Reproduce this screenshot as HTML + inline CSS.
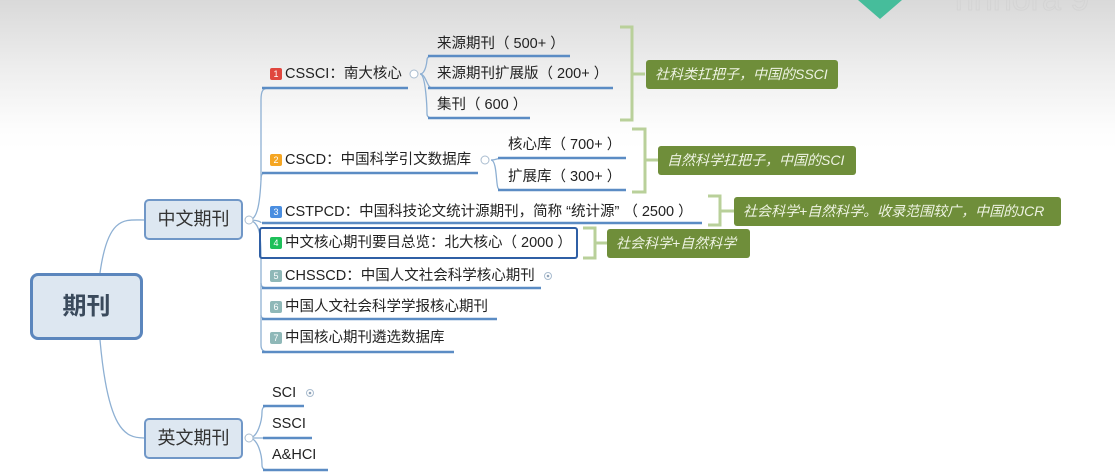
<!DOCTYPE html>
<html><head><meta charset="utf-8"><style>
body{margin:0;width:1115px;height:474px;overflow:hidden;position:relative;font-family:"Liberation Sans","Noto Sans CJK SC",sans-serif;background:linear-gradient(#d9d9d9 0px,#eeeeee 70px,#fdfdfd 130px,#fff 150px);}
.t{position:absolute;font-size:14.5px;color:#222;white-space:nowrap;line-height:16px}
.b{display:inline-block;width:12px;height:12px;border-radius:2px;color:#fff;font-size:9px;line-height:12px;text-align:center;vertical-align:1px;margin-right:3px}
.n{position:absolute;background:#6f8e3a;border-radius:3px;color:#eef3e2;font-style:italic;font-size:14px;line-height:29px;padding:0 9px;white-space:nowrap;box-sizing:border-box}
.box{position:absolute;background:#dde7f1;border:2px solid #7097c7;border-radius:5px;box-sizing:border-box;text-align:center;color:#333;font-size:18px}
svg{position:absolute;left:0;top:0}
</style></head><body>
<svg width="1115" height="474">
<polygon points="858,0 902,0 880,19" fill="#46bd9b"/>
<text x="955" y="10" font-size="34" fill="none" stroke="#d4d4d4" font-family="Liberation Sans">nnnora 9</text>
<g fill="none" stroke="#8eb0d3" stroke-width="1.3">
<path d="M100,273 C108,215 125,220 144,220"/>
<path d="M100,340 C108,430 125,438 144,438"/>
<path d="M249,220 C258,220 260,200 261,180 L261,100 C261,90 263,88 270,88"/>
<path d="M261,180 C261,172 263,173 270,173"/>
<path d="M249,220 C258,220 261,222 261,223"/>
<path d="M249,220 C260,222 261,235 261,260 L261,345 C261,350 263,352 270,352"/>
<path d="M261,283 C261,287 263,288 270,288"/>
<path d="M261,315 C261,318 263,319 270,319"/>
<path d="M249,438 C258,438 262,420 262,412 C262,407 264,406 270,406"/>
<path d="M249,438 C258,438 262,438 268,438"/>
<path d="M249,438 C258,438 262,455 262,465 C262,469 264,470 270,470"/>
<path d="M420,74 C426,74 427,60 427,60 C427,57 429,56 434,56"/>
<path d="M420,74 C426,74 427,88 432,88"/>
<path d="M420,74 C426,74 427,110 427,114 C427,117 429,118 434,118"/>
<path d="M491,160 C497,160 497,158 503,158"/>
<path d="M491,160 C497,160 496,185 498,188 C499,190 500,190 505,190"/>
</g>
<g stroke="#5b8cc4" stroke-width="2.5">
<line x1="262" y1="88" x2="408" y2="88"/>
<line x1="262" y1="173" x2="478" y2="173"/>
<line x1="262" y1="223" x2="702" y2="223"/>
<line x1="262" y1="288" x2="541" y2="288"/>
<line x1="262" y1="319" x2="497" y2="319"/>
<line x1="262" y1="352" x2="454" y2="352"/>
<line x1="428" y1="56" x2="570" y2="56"/>
<line x1="428" y1="88" x2="613" y2="88"/>
<line x1="428" y1="118" x2="530" y2="118"/>
<line x1="498" y1="158" x2="626" y2="158"/>
<line x1="498" y1="190" x2="626" y2="190"/>
<line x1="263" y1="406" x2="304" y2="406"/>
<line x1="263" y1="438" x2="312" y2="438"/>
<line x1="263" y1="470" x2="328" y2="470"/>
</g>
<g fill="none" stroke="#b9d09a" stroke-width="3">
<path d="M620,27 H632 V120 H620 M632,74 H645"/>
<path d="M632,129 H645 V192 H632 M645,160 H658"/>
<path d="M708,196 H720 V225 H708 M720,211 H734"/>
<path d="M583,228 H595 V258 H583 M595,243 H607"/>
</g>
<g fill="#fff" stroke="#a9bccf" stroke-width="1">
<circle cx="414" cy="74" r="4"/><circle cx="485" cy="160" r="4"/>
<circle cx="249" cy="220" r="4"/><circle cx="249" cy="438" r="4"/>
<circle cx="548" cy="276" r="3.5"/><circle cx="310" cy="393" r="3.5"/>
</g>
<g fill="#8fa3b8"><circle cx="548" cy="276" r="1.3"/><circle cx="310" cy="393" r="1.3"/></g>
</svg>
<div class="box" style="left:30px;top:273px;width:113px;height:67px;border-width:3px;border-color:#5b86bd;border-radius:8px;line-height:61px;font-size:24px;font-weight:bold;color:#3a4a5c">期刊</div>
<div class="box" style="left:144px;top:199px;width:99px;height:41px;line-height:37px">中文期刊</div>
<div class="box" style="left:144px;top:418px;width:99px;height:41px;line-height:37px">英文期刊</div>
<div class="t" style="left:270px;top:66px"><span class="b" style="background:#e0463e">1</span>CSSCI：南大核心</div>
<div class="t" style="left:270px;top:152px"><span class="b" style="background:#f5a623">2</span>CSCD：中国科学引文数据库</div>
<div class="t" style="left:270px;top:204px"><span class="b" style="background:#4a8ee0">3</span>CSTPCD：中国科技论文统计源期刊，简称 “统计源” （ 2500 ）</div>
<div style="position:absolute;left:259px;top:227px;width:319px;height:32px;border:2px solid #2f5fa5;border-radius:3px;box-sizing:border-box"></div>
<div class="t" style="left:270px;top:235px"><span class="b" style="background:#1ec05a">4</span>中文核心期刊要目总览：北大核心（ 2000 ）</div>
<div class="t" style="left:270px;top:268px"><span class="b" style="background:#8fb8b8">5</span>CHSSCD：中国人文社会科学核心期刊</div>
<div class="t" style="left:270px;top:299px"><span class="b" style="background:#8fb8b8">6</span>中国人文社会科学学报核心期刊</div>
<div class="t" style="left:270px;top:330px"><span class="b" style="background:#8fb8b8">7</span>中国核心期刊遴选数据库</div>
<div class="t" style="left:437px;top:36px">来源期刊（ 500+ ）</div>
<div class="t" style="left:437px;top:66px">来源期刊扩展版（ 200+ ）</div>
<div class="t" style="left:437px;top:97px">集刊（ 600 ）</div>
<div class="t" style="left:508px;top:137px">核心库（ 700+ ）</div>
<div class="t" style="left:508px;top:169px">扩展库（ 300+ ）</div>
<div class="t" style="left:272px;top:385px">SCI</div>
<div class="t" style="left:272px;top:416px">SSCI</div>
<div class="t" style="left:272px;top:447px">A&amp;HCI</div>
<div class="n" style="left:646px;top:60px;width:192px">社科类扛把子，中国的SSCI</div>
<div class="n" style="left:658px;top:146px;width:198px">自然科学扛把子，中国的SCI</div>
<div class="n" style="left:734px;top:197px;width:327px">社会科学+自然科学。收录范围较广，中国的JCR</div>
<div class="n" style="left:607px;top:229px;width:143px">社会科学+自然科学</div>
</body></html>
